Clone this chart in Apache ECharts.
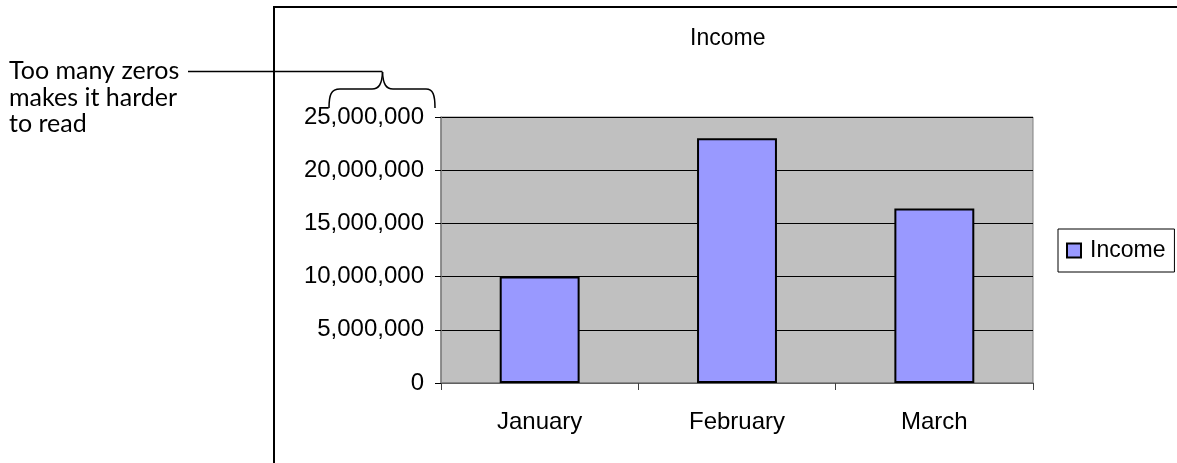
<!DOCTYPE html>
<html>
<head>
<meta charset="utf-8">
<script src="https://cdn.jsdelivr.net/npm/echarts@6/dist/echarts.min.js"></script>
<style>html,body{margin:0;padding:0;background:#fff;}#c{width:1177px;height:463px;}</style>
</head>
<body>
<div id="c"></div>
<script>
var categories = ['January', 'February', 'March'];
var incomeValues = [10000000, 23000000, 16400000];
var seriesName = 'Income';
var yMin = 0, yMax = 25000000, yInterval = 5000000;
var annotationText = 'Too many zeros\nmakes it harder\nto read';

var chart = echarts.init(document.getElementById('c'));
var arial = '"Liberation Sans", Arial, sans-serif';
var ink = { fill: 'none', stroke: '#000', lineWidth: 1.5 };
function bez(x1, y1, c1x, c1y, c2x, c2y, x2, y2) {
  return { type: 'bezierCurve', z: 100,
    shape: { x1: x1, y1: y1, cpx1: c1x, cpy1: c1y, cpx2: c2x, cpy2: c2y, x2: x2, y2: y2 }, style: ink };
}
function seg(x1, y1, x2, y2) {
  return { type: 'line', z: 100, shape: { x1: x1, y1: y1, x2: x2, y2: y2 }, style: ink };
}
chart.setOption({
  animation: false,
  backgroundColor: '#fff',
  title: {
    text: 'Income',
    left: 690, top: 27, padding: 0,
    textStyle: { fontFamily: arial, fontSize: 23, fontWeight: 'normal', color: '#000' }
  },
  legend: {
    data: [seriesName],
    left: 1058, top: 229,
    padding: [10, 9, 10, 8],
    borderColor: '#000', borderWidth: 1,
    itemWidth: 14, itemHeight: 14,
    icon: 'rect',
    itemStyle: { borderColor: '#000', borderWidth: 2 },
    textStyle: { fontFamily: arial, fontSize: 23, color: '#000', padding: [0, 0, 0, 4] }
  },
  grid: {
    left: 441, top: 117, width: 592, height: 266,
    show: true, backgroundColor: '#c0c0c0', borderColor: '#808080', borderWidth: 1
  },
  xAxis: {
    type: 'category', data: categories, boundaryGap: true,
    axisLine: { lineStyle: { color: '#808080', width: 1.5 } },
    axisTick: { show: true, alignWithLabel: false, length: 7, lineStyle: { color: '#404040' } },
    axisLabel: { fontFamily: arial, fontSize: 24, color: '#000', margin: 27 }
  },
  yAxis: {
    type: 'value', min: yMin, max: yMax, interval: yInterval,
    axisLine: { show: true, lineStyle: { color: '#808080', width: 1.5 } },
    axisTick: { show: true, length: 6, lineStyle: { color: '#000' } },
    splitLine: { show: true, lineStyle: { color: '#000', width: 1 } },
    axisLabel: {
      fontFamily: arial, fontSize: 24, color: '#000', margin: 17,
      formatter: function (v) { return String(v).replace(/\B(?=(\d{3})+(?!\d))/g, ','); }
    }
  },
  series: [{
    name: seriesName, type: 'bar', data: incomeValues,
    barWidth: '40.5%',
    itemStyle: { color: '#9999ff', borderColor: '#000', borderWidth: 2 }
  }],
  graphic: [
    { type: 'rect', z: 100, shape: { x: 274, y: 7, width: 1000, height: 500 },
      style: { fill: 'none', stroke: '#000', lineWidth: 2 } },
    { type: 'text', x: 9, y: 58,
      style: { text: annotationText, fontFamily: 'Lato, "Open Sans", sans-serif', fontSize: 25, lineHeight: 26.5, fill: '#000', verticalAlign: 'top' } },
    seg(188, 71.5, 382.5, 71.5),
    bez(329, 108, 329, 95, 331, 89, 340, 89),
    seg(340, 89, 372, 89),
    bez(372, 89, 379, 89, 382, 84, 382.5, 72),
    bez(382.5, 72, 383, 84, 386, 89, 393, 89),
    seg(393, 89, 426, 89),
    bez(426, 89, 433, 89, 435, 95, 435, 108)
  ]
});
</script>
</body>
</html>
